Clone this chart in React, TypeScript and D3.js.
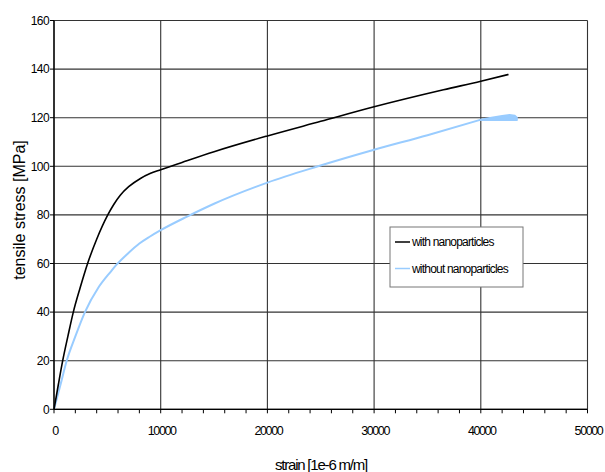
import * as d3 from "d3";

// strain [1e-6 m/m] / tensile stress [MPa]
const withStrain = [0, 400, 815, 1300, 1810, 2450, 3150, 4000, 5040, 5600, 6230, 7000, 8100, 9000, 10000, 12000, 15000, 20000, 25000, 30000, 36500, 40000, 42600];
const withStress = [0, 10, 20, 30, 40, 50, 60, 70, 80, 84.3, 88.2, 91.6, 95, 97, 98.6, 101.6, 106, 112.5, 118.5, 124.5, 131.5, 135, 137.8];

const withoutStrain = [0, 600, 1190, 2000, 2900, 4150, 5290, 5800, 7000, 8000, 9000, 10000, 12470, 15000, 20000, 24670, 30000, 35000, 40000];
const withoutStress = [0, 10, 20, 30, 40, 50, 56.5, 59.2, 64.4, 68.2, 71.1, 73.7, 79.3, 84.6, 93.3, 99.9, 106.8, 112.8, 119.2];

// noisy end of the "without" test (drawn as a small filled patch)
const tailStrain = [40000, 41000, 42000, 42700, 43200, 43400, 43400, 42500, 41000, 40000];
const tailStress = [119.3, 120.1, 120.8, 121.2, 120.9, 120.1, 119.0, 118.9, 119.1, 119.0];

const seriesNames = ["with nanoparticles", "without nanoparticles"];
const seriesColors = ["#000000", "#99ccff"];

const xTicks = [0, 10000, 20000, 30000, 40000, 50000];
const yTicks = [0, 20, 40, 60, 80, 100, 120, 140, 160];

const W = 605;
const H = 472;
const M = { left: 54, right: 17.5, top: 20.5, bottom: 62.7 };
const FONT = "'Liberation Sans', Arial, sans-serif";

export default function App() {
  const x = d3.scaleLinear().domain([0, 50000]).range([M.left, W - M.right]);
  const y = d3.scaleLinear().domain([0, 160]).range([H - M.bottom, M.top]);
  const line = d3
    .line<[number, number]>()
    .x((d) => x(d[0]))
    .y((d) => y(d[1]))
    .curve(d3.curveMonotoneX);
  const tail = d3
    .line<[number, number]>()
    .x((d) => x(d[0]))
    .y((d) => y(d[1]))
    .curve(d3.curveLinearClosed);

  const withPts = withStrain.map((s, i) => [s, withStress[i]] as [number, number]);
  const withoutPts = withoutStrain.map((s, i) => [s, withoutStress[i]] as [number, number]);
  const tailPts = tailStrain.map((s, i) => [s, tailStress[i]] as [number, number]);
  const minor = d3.range(0, 50001, 2000);

  const x0 = x(0);
  const x1 = x(50000);
  const yb = y(0);
  const yt = y(160);

  return (
    <svg width={W} height={H} style={{ position: "absolute", left: 0, top: 0, background: "#fff" }}>
      {/* grid */}
      {yTicks.map((t) => (
        <line key={"gy" + t} x1={x0} x2={x1} y1={y(t)} y2={y(t)} stroke="#333" strokeWidth={1.1} />
      ))}
      {xTicks.map((t) => (
        <line key={"gx" + t} x1={x(t)} x2={x(t)} y1={yt} y2={yb} stroke="#333" strokeWidth={1.1} />
      ))}

      {/* series */}
      <path d={line(withoutPts) || ""} fill="none" stroke={seriesColors[1]} strokeWidth={2} strokeLinejoin="round" />
      <path d={tail(tailPts) || ""} fill={seriesColors[1]} stroke={seriesColors[1]} strokeWidth={1.5} strokeLinejoin="round" />
      <path d={line(withPts) || ""} fill="none" stroke={seriesColors[0]} strokeWidth={1.6} strokeLinejoin="round" />

      {/* axes */}
      <line x1={x0} x2={x0} y1={yt} y2={yb} stroke="#000" strokeWidth={1.3} />
      <line x1={x0} x2={x1} y1={yb} y2={yb} stroke="#000" strokeWidth={1.3} />
      {yTicks.map((t) => (
        <g key={"ty" + t}>
          <line x1={x0 - 4} x2={x0} y1={y(t)} y2={y(t)} stroke="#000" />
          <text x={x0 - 5} y={y(t)} dy="0.35em" textAnchor="end" fontFamily={FONT} fontSize={12} letterSpacing={-0.6} fill="#000">
            {t}
          </text>
        </g>
      ))}
      {minor.map((t) => (
        <line key={"tx" + t} x1={x(t)} x2={x(t)} y1={yb} y2={yb + 4} stroke="#000" />
      ))}
      {xTicks.map((t) => (
        <text key={"lx" + t} x={x(t) + 1} y={435} textAnchor="middle" fontFamily={FONT} fontSize={12.5} letterSpacing={-1.4} fill="#000">
          {t}
        </text>
      ))}

      {/* axis titles */}
      <text x={321} y={470} textAnchor="middle" fontFamily={FONT} fontSize={15} letterSpacing={-1.2} fill="#000">
        strain [1e-6 m/m]
      </text>
      <text transform="translate(25,210) rotate(-90)" textAnchor="middle" fontFamily={FONT} fontSize={16} fill="#000">
        tensile stress [MPa]
      </text>

      {/* legend */}
      <g>
        <rect x={390} y={227} width={133} height={60} fill="#fff" stroke="#777" strokeWidth={1} />
        {seriesNames.map((n, i) => (
          <g key={n}>
            <line x1={395} x2={410} y1={242 + i * 26.5} y2={242 + i * 26.5} stroke={seriesColors[i]} strokeWidth={1.5} />
            <text x={412} y={242 + i * 26.5} dy="0.35em" fontFamily={FONT} fontSize={12} letterSpacing={-0.8} fill="#000">
              {n}
            </text>
          </g>
        ))}
      </g>
    </svg>
  );
}
